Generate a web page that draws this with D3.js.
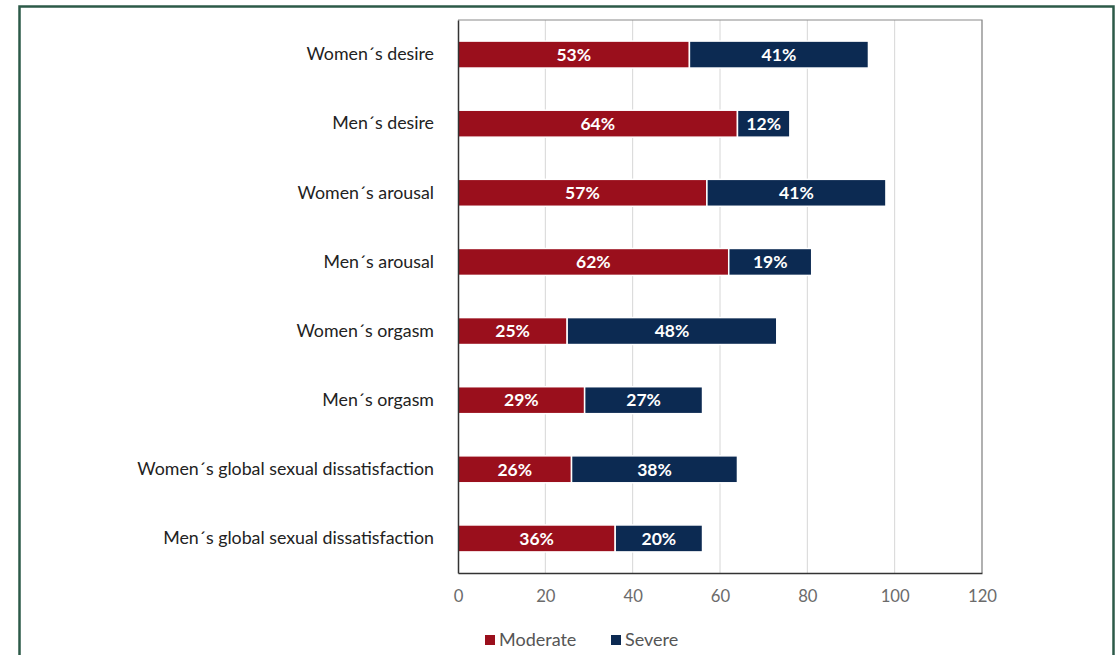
<!DOCTYPE html>
<html>
<head>
<meta charset="utf-8">
<script src="https://cdn.jsdelivr.net/npm/d3@7"></script>
<style>
  body { margin: 0; background: #fff; }
  svg { display: block; }
</style>
</head>
<body>
<div id="chart"></div>
<script>
// chart data
const categories = [
  "Women´s desire",
  "Men´s desire",
  "Women´s arousal",
  "Men´s arousal",
  "Women´s orgasm",
  "Men´s orgasm",
  "Women´s global sexual dissatisfaction",
  "Men´s global sexual dissatisfaction"
];
const moderate = [53, 64, 57, 62, 25, 29, 26, 36];
const severe = [41, 12, 41, 19, 48, 27, 38, 20];
const seriesNames = ["Moderate", "Severe"];
const xTicks = [0, 20, 40, 60, 80, 100, 120];

const W = 1120, H = 655;
const plot = { left: 458, right: 982, top: 20, bottom: 573 };
const colors = { Moderate: "#9a0f1c", Severe: "#0c2a52" };
const font = "Lato, 'Open Sans', sans-serif";

const svg = d3.select("#chart").append("svg")
  .attr("width", W).attr("height", H);

// outer frame
svg.append("rect")
  .attr("x", 19.5).attr("y", 6.5)
  .attr("width", 1094).attr("height", 660)
  .attr("fill", "none").attr("stroke", "#2c5a48").attr("stroke-width", 2.5);

const x = d3.scaleLinear().domain([0, 120]).range([plot.left, plot.right]);
const y = d3.scaleBand().domain(categories).range([plot.top, plot.bottom]).paddingInner(0.61).paddingOuter(0.305);

// gridlines
svg.append("g").selectAll("line")
  .data(xTicks.slice(1))
  .enter().append("line")
  .attr("x1", d => x(d)).attr("x2", d => x(d))
  .attr("y1", plot.top).attr("y2", plot.bottom)
  .attr("stroke", "#d6d6d6").attr("stroke-width", 1);

// plot frame (top/right lines)
svg.append("path")
  .attr("d", `M${plot.left},${plot.top}H${plot.right}V${plot.bottom}`)
  .attr("fill", "none").attr("stroke", "#8a8a8a").attr("stroke-width", 1.2);

const rows = categories.map((c, i) => ({ cat: c, Moderate: moderate[i], Severe: severe[i] }));
const stacked = d3.stack().keys(seriesNames)(rows);

const layers = svg.append("g").selectAll("g")
  .data(stacked)
  .enter().append("g")
  .attr("fill", d => colors[d.key]);

layers.selectAll("rect")
  .data(d => d)
  .enter().append("rect")
  .attr("x", d => x(d[0]))
  .attr("y", d => y(d.data.cat))
  .attr("width", d => x(d[1]) - x(d[0]))
  .attr("height", y.bandwidth())
  .attr("stroke", "#fff").attr("stroke-width", 1.5);

layers.selectAll("text")
  .data(d => d)
  .enter().append("text")
  .attr("x", d => (x(d[0]) + x(d[1])) / 2)
  .attr("y", d => y(d.data.cat) + y.bandwidth() / 2)
  .attr("dy", "0.36em")
  .attr("text-anchor", "middle")
  .attr("fill", "#fff")
  .attr("font-family", font)
  .attr("font-weight", "bold")
  .attr("font-size", 17.5)
  .text(d => (d[1] - d[0]) + "%");

// axes
const xAxis = svg.append("g")
  .attr("transform", `translate(0,${plot.bottom})`)
  .call(d3.axisBottom(x).tickValues(xTicks).tickSize(0).tickPadding(17));
xAxis.select(".domain").attr("stroke", "#333").attr("stroke-width", 1.5);
xAxis.selectAll("text").attr("font-family", font).attr("font-size", 16.7).attr("fill", "#6b6b6b");

const yAxis = svg.append("g")
  .attr("transform", `translate(${plot.left},0)`)
  .call(d3.axisLeft(y).tickSize(0).tickPadding(24));
yAxis.select(".domain").attr("stroke", "#333").attr("stroke-width", 1.5);
yAxis.selectAll("text").attr("font-family", font).attr("font-size", 17.8).attr("fill", "#222");

// legend
const legend = svg.append("g").attr("transform", "translate(485,640)");
const items = legend.selectAll("g")
  .data(seriesNames)
  .enter().append("g")
  .attr("transform", (d, i) => `translate(${i * 126},0)`);
items.append("rect")
  .attr("x", 0).attr("y", -5).attr("width", 10).attr("height", 10)
  .attr("fill", d => colors[d]);
items.append("text")
  .attr("x", 14).attr("y", 0).attr("dy", "0.35em")
  .attr("font-family", font).attr("font-size", 18).attr("fill", "#555")
  .text(d => d);
</script>
</body>
</html>
